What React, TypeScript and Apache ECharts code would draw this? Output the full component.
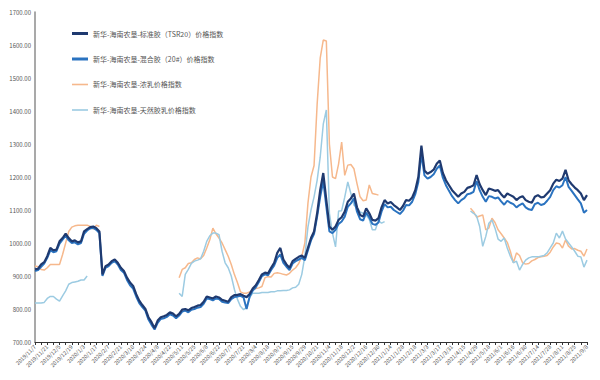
import React, { useEffect, useRef } from "react";
import * as echarts from "echarts";

const tickLabels = [
  "2019/11/7", "2019/11/21", "2019/12/5", "2019/12/19", "2020/1/3", "2020/1/17", "2020/2/7", "2020/2/21",
  "2020/3/10", "2020/3/24", "2020/4/8", "2020/4/22", "2020/5/11", "2020/5/25", "2020/6/8", "2020/6/22",
  "2020/7/7", "2020/7/21", "2020/8/4", "2020/8/18", "2020/9/1", "2020/9/15", "2020/9/29", "2020/10/21",
  "2020/11/4", "2020/11/18", "2020/12/2", "2020/12/16", "2020/12/30", "2021/1/14", "2021/1/28", "2021/2/18",
  "2021/3/3", "2021/3/17", "2021/3/31", "2021/4/15", "2021/4/29", "2021/5/18", "2021/6/1", "2021/6/16",
  "2021/6/30", "2021/7/14", "2021/7/28", "2021/8/11", "2021/8/25", "2021/9/8",
];
const pointsPerLabel = 4;

const seriesNames = [
  "新华-海南农垦-标准胶（TSR20）价格指数",
  "新华-海南农垦-混合胶（20#）价格指数",
  "新华-海南农垦-浓乳价格指数",
  "新华-海南农垦-天然胶乳价格指数",
];

const tsr20 = [
  920, 922, 935, 942, 960, 985, 978, 980, 1005, 1015, 1028, 1015, 1005, 1008, 1002, 1005, 1035, 1042, 1048, 1050,
  1045, 1035, 905, 930, 935, 945, 950, 940, 925, 915, 895, 880, 870, 845, 825, 812, 800, 775, 760, 742,
  765, 775, 778, 782, 790, 786, 778, 785, 798, 800, 796, 803, 806, 810, 812, 822, 838, 835, 832, 838,
  835, 828, 825, 822, 836, 842, 843, 845, 840, 836, 845, 862, 872, 888, 905, 910, 908, 925, 940, 970,
  985, 950, 935, 925, 945, 952, 958, 962, 955, 985, 1015, 1035, 1090, 1160, 1212, 1130, 1050, 1040, 1050, 1070,
  1078, 1095, 1125, 1135, 1150, 1108, 1085, 1080, 1105, 1090, 1070, 1068, 1075, 1108, 1130, 1120, 1124, 1115, 1108, 1100,
  1112, 1130, 1128, 1138, 1160, 1200, 1295, 1220, 1210, 1215, 1222, 1240, 1250, 1212, 1190, 1175, 1160, 1150, 1140, 1150,
  1155, 1167, 1170, 1175, 1206, 1178, 1160, 1145, 1165, 1162, 1158, 1160, 1148, 1138, 1150, 1145, 1140, 1130, 1138, 1142,
  1130, 1125, 1122, 1140, 1145, 1138, 1140, 1150, 1160, 1180, 1192, 1188, 1195, 1222, 1190, 1178, 1168, 1160, 1150, 1130,
  1145,
];

const mix20 = [
  915, 918, 928, 938, 955, 978, 972, 975, 998, 1010, 1022, 1008, 1000, 1002, 996, 1000, 1028, 1038, 1044, 1046,
  1040, 1030, 900, 925, 930, 940, 945, 935, 918, 910, 888, 872, 862, 838, 818, 806, 795, 768, 752, 738,
  758, 770, 772, 776, 784, 780, 772, 780, 792, 795, 790, 798, 800, 804, 806, 816, 832, 830, 826, 832,
  830, 822, 820, 818, 830, 836, 838, 840, 835, 800, 838, 856, 866, 882, 900, 905, 902, 918, 932, 955,
  965, 940, 928, 918, 938, 945, 950, 955, 948, 978, 1008, 1028, 1080, 1140, 1188, 1110, 1035, 1030, 1040, 1058,
  1065, 1080, 1110, 1120, 1135, 1095, 1072, 1068, 1092, 1078, 1058, 1055, 1062, 1095, 1118, 1108, 1110, 1100, 1094, 1088,
  1098, 1115, 1114, 1125, 1148, 1185, 1270, 1205, 1195, 1200, 1208, 1225, 1235, 1198, 1175, 1158, 1142, 1130, 1120, 1130,
  1136, 1148, 1150, 1155, 1188, 1160, 1140, 1125, 1142, 1140, 1135, 1138, 1126, 1116, 1128, 1122, 1118, 1108, 1115, 1120,
  1108, 1102, 1100, 1118, 1122, 1115, 1118, 1128, 1140, 1160, 1172, 1168, 1175, 1200, 1170, 1158, 1145, 1132, 1120, 1092,
  1100,
];

const latexConc = [
  930, 928, 920, 918, 925, 935, 935, 935, 935, 965, 1000, 1035, 1048, 1052, 1054, 1054, 1054, 1054, 1050, 1042,
  1054, 1050, null, null, null, null, null, null, null, null, null, null, null, null, null, null, null, null, null, null,
  null, null, null, null, null, null, null, 895, 920, 925, 938, 940, 950, 955, 952, 962, 985, 1010, 1045, 1028,
  1015, 1000, 980, 960, 935, 905, 880, 852, 848, 848, 852, 858, 862, 864, 868, 895, 898, 897, 908, 910,
  908, 905, 903, 908, 918, 925, 938, 960, 1000, 1120, 1200, 1235, 1420, 1560, 1615, 1612, 1300, 1200, 1195, 1240,
  1306, 1205, 1236, 1238, 1225, 1180, 1140, 1128, 1130, 1176, 1150, 1148, 1145, null, null, null, null, null, null, null,
  null, null, null, null, null, null, null, null, null, null, null, null, null, null, null, null, null, null, null, null,
  null, null, 1105, 1095, 1078, 1082, 1085, 1040, 1045, 1075, 1062, 1040, 1028, 1015, 1002, 975, 940, 970, 962, 940,
  936, 938, 946, 950, 956, 958, 960, 962, 972, 988, 1000, 998, 985, 1009, 990, 982, 983, 978, 975, 960,
  982,
];

const naturalLatex = [
  818, 818, 818, 820, 832, 838, 838, 830, 824, 840, 855, 875, 880, 882, 884, 888, 888, 900, null, null,
  null, null, null, null, null, null, null, null, null, null, null, null, null, null, null, null, null, null, null, null,
  null, null, null, null, null, null, null, 848, 838, 905, 920, 938, 945, 948, 952, 975, 1005, 1022, 1030, 1030,
  1025, 975, 940, 925, 900, 860, 830, 808, 798, 805, 835, 848, 848, 848, 850, 850, 850, 852, 852, 855,
  855, 856, 856, 858, 864, 866, 875, 905, 960, 1048, 1100, 1140, 1190, 1260, 1360, 1403, 1090, 1030, 988, 1097,
  1098, 1139, 1185, 1150, 1115, 1108, 1094, 1090, 1085, 1072, 1040, 1040, 1068, 1060, 1065, null, null, null, null, null,
  null, null, null, null, null, null, null, null, null, null, null, null, null, null, null, null, null, null, null, null,
  null, null, 1097, 1090, 1082, 1050, 990, 1020, 1060, 1070, 1045, 1012, 1005, 1015, 985, 960, 940, 945, 918, 935,
  948, 955, 958, 958, 958, 960, 962, 970, 985, 1000, 1030, 1015, 1036, 1012, 1000, 988, 975, 960, 958, 927,
  948,
];

const colors = ["#1f3a70", "#2a73c0", "#f6b88c", "#9ccbe2"];
const widths = [2.2, 2, 1.5, 1.5];
const zs = [5, 4, 2, 3];
const legendIcons = [
  "path://M0,0H16V3H0Z",
  "path://M0,0H16V3H0Z",
  "path://M0,0H16V1.6H0Z",
  "path://M0,0H16V1.6H0Z",
];

export default function App() {
  const ref = useRef<HTMLDivElement>(null);
  useEffect(() => {
    document.body.style.margin = "0";
    if (!ref.current) return;
    const chart = echarts.init(ref.current, null, { renderer: "svg" });
    const categories: string[] = [];
    const n = (tickLabels.length - 1) * pointsPerLabel + 1;
    for (let i = 0; i < n; i++) {
      const k = Math.floor(i / pointsPerLabel);
      const j = i % pointsPerLabel;
      categories.push(j === 0 ? tickLabels[k] : `${tickLabels[k]}#${j}`);
    }
    const datasets = [tsr20, mix20, latexConc, naturalLatex];
    chart.setOption({
      animation: false,
      backgroundColor: "#ffffff",
      textStyle: { fontFamily: "'Noto Sans CJK SC', 'Noto Sans', sans-serif" },
      grid: { left: 35, right: 13, top: 12, bottom: 38 },
      legend: {
        orient: "vertical",
        left: 67,
        top: 25,
        itemWidth: 16,
        itemHeight: 8,
        itemGap: 18.5,
        symbolKeepAspect: true,
        textStyle: { fontSize: 7, color: "#555", fontFamily: "'Noto Sans CJK SC', sans-serif" },
        data: seriesNames.map((name, i) => ({ name, icon: legendIcons[i] })),
      },
      xAxis: {
        type: "category",
        boundaryGap: false,
        data: categories,
        axisLine: { lineStyle: { color: "#333", width: 1 } },
        axisTick: { show: true, interval: 1, length: 3, lineStyle: { color: "#333" } },
        axisLabel: {
          interval: pointsPerLabel - 1,
          rotate: 45,
          fontSize: 5.5,
          color: "#555",
          margin: 4,
        },
        splitLine: { show: false },
      },
      yAxis: {
        type: "value",
        min: 700,
        max: 1700,
        interval: 100,
        axisLine: { show: true, lineStyle: { color: "#8c8c8c", width: 1.5 } },
        axisTick: { show: false },
        axisLabel: {
          fontSize: 6,
          color: "#555",
          margin: 4,
          formatter: (v: number) => v.toFixed(2),
        },
        splitLine: { show: false },
      },
      series: seriesNames.map((name, i) => ({
        name,
        type: "line",
        data: datasets[i],
        symbol: "none",
        showSymbol: false,
        connectNulls: false,
        z: zs[i],
        itemStyle: { color: colors[i] },
        lineStyle: { color: colors[i], width: widths[i] },
      })),
    });
    return () => chart.dispose();
  }, []);
  return <div ref={ref} style={{ width: 600, height: 380 }} />;
}
